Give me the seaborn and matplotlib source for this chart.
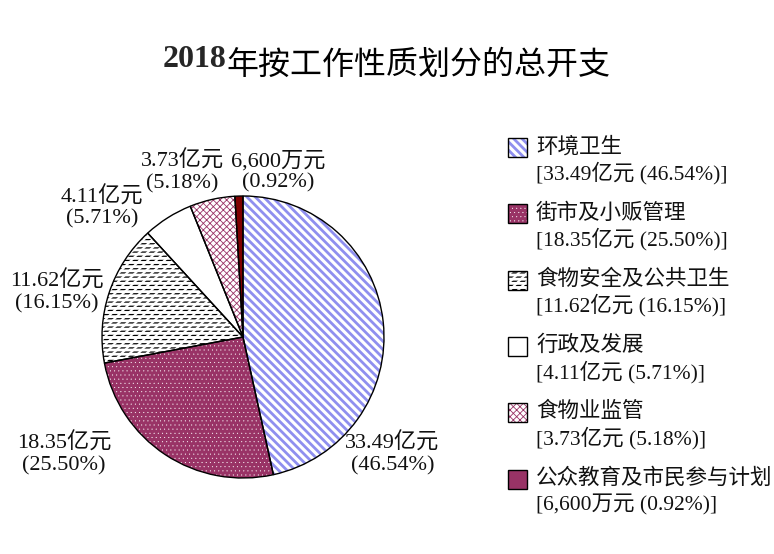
import numpy as np
import matplotlib
matplotlib.use('Agg')
import matplotlib.pyplot as plt
from matplotlib.patches import Rectangle
import seaborn as sns

# data (亿元)
categories = ['环境卫生', '街市及小贩管理', '食物安全及公共卫生', '行政及发展',
              '食物业监管', '公众教育及市民参与计划']
amounts = np.array([33.49, 18.35, 11.62, 4.11, 3.73, 0.66])

# styles
BS = chr(92)  # backslash, for the diagonal hatch
fills = ['white', '#993366', 'white', 'white', 'white', '#800000']
legend_fills = ['white', '#993366', 'white', 'white', 'white', '#993366']
hatches = [BS * 4, '....', '----', '', 'xxxxx', '']
hatch_colors = ['#8f8fef', 'white', 'black', 'black', '#993366', '#800000']
hatch_widths = [2.0, 0.2, 0.9, 0.8, 0.6, 0.8]
# white diagonal cuts turn the horizontal lines into staggered dashes
cut_hatches = [None, None, '////', None, None, None]
# label centres, in units of the pie radius
label_pos = [(1.06, -0.83), (-1.27, -0.83), (-1.32, 0.32),
             (-1.0, 0.92), (-0.43, 1.17), (0.25, 1.17)]

sns.set_theme(style='white')
plt.rcParams['font.family'] = ['Liberation Serif', 'Noto Sans CJK SC']
plt.rcParams['hatch.linewidth'] = 0.8

W, H = 774, 554
fig = plt.figure(figsize=(W / 100, H / 100), dpi=100)
ax = fig.add_axes([102 / W, 76 / H, 282 / W, 282 / H])


def amount_text(v):
    if v < 1:
        return f'{v * 10000:,.0f}万元'
    return f'{v:.2f}亿元'


def set_hatch(p, hatch, color, width):
    p.set_hatch(hatch)
    p.set_edgecolor(color)
    if hasattr(p, 'set_hatch_linewidth'):
        p.set_hatch_linewidth(width)


pct = amounts / amounts.sum() * 100
pie_kw = dict(startangle=90, counterclock=False)

wedges, _ = ax.pie(amounts, colors=fills, wedgeprops=dict(linewidth=0), **pie_kw)
for i, w in enumerate(wedges):
    set_hatch(w, hatches[i], hatch_colors[i], hatch_widths[i])
    w.set_clip_on(False)

cuts, _ = ax.pie(amounts, colors=['none'] * len(amounts),
                 wedgeprops=dict(linewidth=0), **pie_kw)
for w, ch in zip(cuts, cut_hatches):
    if ch is None:
        w.set_visible(False)
    else:
        set_hatch(w, ch, 'white', 1.6)

outline, _ = ax.pie(amounts, colors=['none'] * len(amounts),
                    wedgeprops=dict(fill=False, edgecolor='black', linewidth=1),
                    **pie_kw)
for w in outline:
    w.set_clip_on(False)

ax.set_xlim(-1, 1)
ax.set_ylim(-1, 1)
ax.set_aspect('equal')
ax.axis('off')

for (x, y), v, p in zip(label_pos, amounts, pct):
    ax.text(x, y, f'{amount_text(v)}\n({p:.2f}%)', ha='center', va='center',
            fontsize=16, linespacing=1.15, color='#111111')

# title: bold serif year + regular CJK
t = fig.text(163 / W, 1 - 67 / H, '2018', fontsize=23, fontweight='bold',
             ha='left', va='baseline')
ax.annotate('年按工作性质划分的总开支', xy=(1, 0), xycoords=t, fontsize=23,
            ha='left', va='baseline', color='black')

# legend drawn by hand: square + name line + value line
y0, step = 147, 66.3
for i, (name, v, p) in enumerate(zip(categories, amounts, pct)):
    yc = y0 + i * step
    xy = (508 / W, 1 - (yc + 10) / H)
    bw, bh = 19 / W, 19 / H
    sq = Rectangle(xy, bw, bh, transform=fig.transFigure, linewidth=0,
                   facecolor=legend_fills[i])
    set_hatch(sq, hatches[i], hatch_colors[i] if i < 5 else legend_fills[i],
              hatch_widths[i])
    fig.add_artist(sq)
    if cut_hatches[i] is not None:
        cut = Rectangle(xy, bw, bh, transform=fig.transFigure, linewidth=0,
                        facecolor='none')
        set_hatch(cut, cut_hatches[i], 'white', 1.6)
        fig.add_artist(cut)
    fig.add_artist(Rectangle(xy, bw, bh, transform=fig.transFigure,
                             fill=False, edgecolor='black', linewidth=1))
    fig.text(536 / W, 1 - yc / H, name, fontsize=15.5, ha='left', va='center',
             color='#111111')
    fig.text(536 / W, 1 - (yc + 26) / H, f'[{amount_text(v)} ({p:.2f}%)]',
             fontsize=15.5, ha='left', va='center', color='#111111')

fig.savefig('out.png', dpi=100, facecolor='white')
